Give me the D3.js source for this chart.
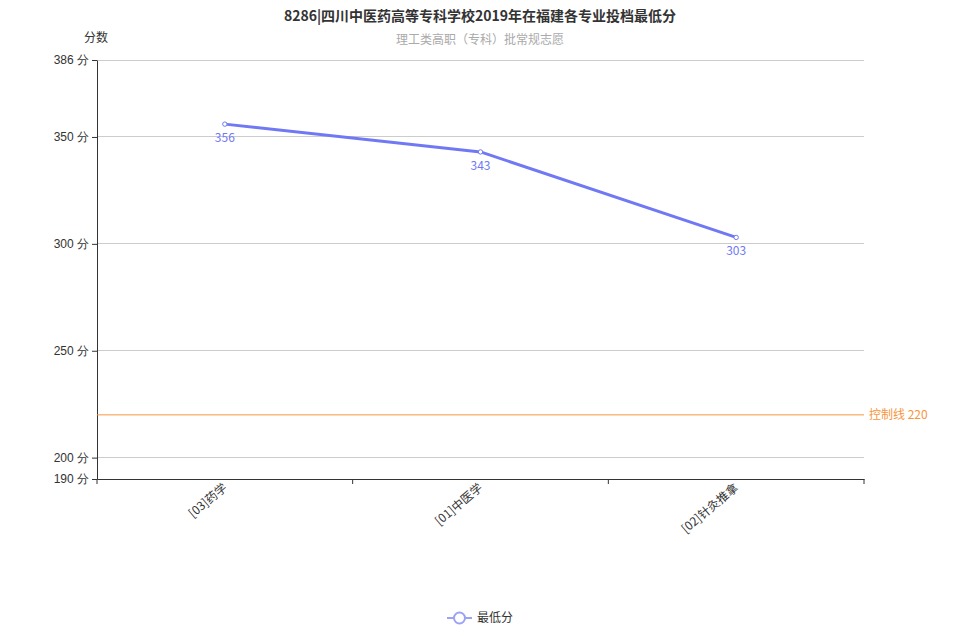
<!DOCTYPE html>
<html><head><meta charset="utf-8">
<script src="https://cdn.jsdelivr.net/npm/d3@7/dist/d3.min.js"></script>
<style>body{margin:0;background:#fff;}svg{display:block;font-family:"Microsoft YaHei","Noto Sans CJK SC",sans-serif;}</style>
</head><body><svg id="c" width="960" height="640"></svg>
<script>
const categories = ["[03]药学", "[01]中医学", "[02]针灸推拿"];
const values = [356, 343, 303];
const yTicks = [190, 200, 250, 300, 350, 386];
const controlLine = 220;
const titleText = "8286|四川中医药高等专科学校2019年在福建各专业投档最低分";
const subtitleText = "理工类高职（专科）批常规志愿";
const seriesName = "最低分";

const svg = d3.select("#c");
const lineColor = "#7079f3", orange = "#f7963d", legendColor = "#9ca2f6";
const x = d3.scaleBand().domain(categories).range([97, 864]);
const y = d3.scaleLinear().domain([190, 386]).range([479, 60]);

svg.append("text").attr("x", 480).attr("y", 21).attr("text-anchor", "middle")
  .attr("font-size", 14).attr("font-weight", "bold").attr("fill", "#333").text(titleText);
svg.append("text").attr("x", 480).attr("y", 44).attr("text-anchor", "middle")
  .attr("font-size", 12).attr("fill", "#aaa").text(subtitleText);
svg.append("text").attr("x", 96).attr("y", 42).attr("text-anchor", "middle")
  .attr("font-size", 12).attr("fill", "#333").text("分数");

// grid
svg.append("g").selectAll("line").data(yTicks.filter(d => d !== 190)).join("line")
  .attr("x1", 97).attr("x2", 864).attr("y1", d => y(d)).attr("y2", d => y(d))
  .attr("stroke", "#ccc").attr("stroke-width", 1).attr("shape-rendering", "crispEdges");

// y axis
const ya = svg.append("g").attr("transform", "translate(97,0)")
  .call(d3.axisLeft(y).tickValues(yTicks).tickFormat(d => d + " 分").tickSize(5).tickSizeOuter(0));
ya.select(".domain").attr("stroke", "#333");
ya.selectAll(".tick line").attr("stroke", "#333");
ya.selectAll("text").attr("font-size", 12).attr("fill", "#333").attr("font-family", null).attr("x", -8);

// x axis
const xa = svg.append("g").attr("transform", "translate(0,479)")
  .call(d3.axisBottom(x).tickSize(0).tickSizeOuter(0));
xa.select(".domain").attr("stroke", "#333");
xa.selectAll(".tick text").remove();
const bounds = [97].concat(categories.map(c => x(c) + x.bandwidth()));
xa.selectAll(".bt").data(bounds).join("line").attr("class", "bt")
  .attr("x1", d => d).attr("x2", d => d).attr("y1", 0).attr("y2", 5).attr("stroke", "#333");
svg.append("g").selectAll("text").data(categories).join("text")
  .attr("transform", d => `translate(${x(d) + x.bandwidth() / 2 + 3},${489}) rotate(-40)`)
  .attr("text-anchor", "end").attr("font-size", 12).attr("fill", "#333").text(d => d);

// control line
svg.append("line").attr("x1", 97).attr("x2", 864).attr("y1", y(controlLine)).attr("y2", y(controlLine))
  .attr("stroke", orange).attr("stroke-width", 1);
svg.append("text").attr("x", 869).attr("y", y(controlLine) + 4).attr("font-size", 12)
  .attr("fill", orange).text("控制线 " + controlLine);

// series line
const pts = categories.map((c, i) => [x(c) + x.bandwidth() / 2, y(values[i])]);
svg.append("path").attr("d", d3.line()(pts)).attr("fill", "none")
  .attr("stroke", lineColor).attr("stroke-width", 3).attr("stroke-linejoin", "round");
svg.append("g").selectAll("circle").data(pts).join("circle")
  .attr("cx", d => d[0]).attr("cy", d => d[1]).attr("r", 2.2)
  .attr("fill", "#fff").attr("stroke", lineColor).attr("stroke-width", 1);
svg.append("g").selectAll("text").data(pts).join("text")
  .attr("x", d => d[0]).attr("y", d => d[1] + 18).attr("text-anchor", "middle")
  .attr("font-size", 12).attr("fill", lineColor).text((d, i) => values[i]);

// legend
svg.append("line").attr("x1", 447).attr("x2", 472).attr("y1", 618).attr("y2", 618)
  .attr("stroke", legendColor).attr("stroke-width", 2);
svg.append("circle").attr("cx", 459.5).attr("cy", 618).attr("r", 5.5)
  .attr("fill", "#fff").attr("stroke", legendColor).attr("stroke-width", 2);
svg.append("text").attr("x", 477).attr("y", 622).attr("font-size", 12).attr("fill", "#333").text(seriesName);
</script></body></html>
